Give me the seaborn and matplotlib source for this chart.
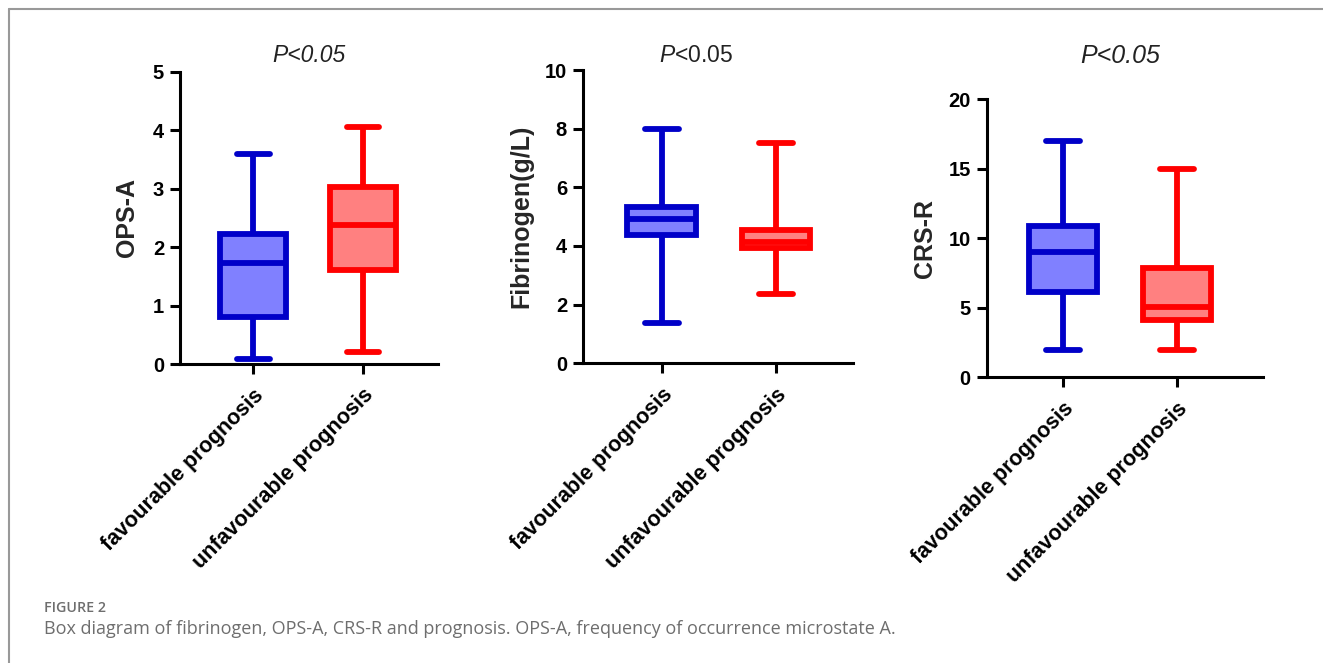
import numpy as np
import pandas as pd
import matplotlib
matplotlib.use("Agg")
import matplotlib.pyplot as plt
from matplotlib.lines import Line2D
import seaborn as sns

# ---------------- data (five-number summaries) ----------------
categories = ["favourable prognosis", "unfavourable prognosis"]
# min, Q1, median, Q3, max
ops_fav = [0.08, 0.80, 1.72, 2.22, 3.60]
ops_unfav = [0.21, 1.61, 2.38, 3.02, 4.06]
fib_fav = [1.36, 4.36, 4.91, 5.34, 8.00]
fib_unfav = [2.35, 3.94, 4.14, 4.55, 7.50]
crs_fav = [2.0, 6.15, 9.0, 10.85, 17.0]
crs_unfav = [2.0, 4.12, 5.05, 7.85, 15.0]

ylabels = ["OPS-A", "Fibrinogen(g/L)", "CRS-R"]
titles = ["P<0.05", r"$\mathit{P}$<0.05", "P<0.05"]
yticks_list = [[0, 1, 2, 3, 4, 5], [0, 2, 4, 6, 8, 10], [0, 5, 10, 15, 20]]
caption_head = "FIGURE 2"
caption_text = ("Box diagram of fibrinogen, OPS-A, CRS-R and prognosis. "
                "OPS-A, frequency of occurrence microstate A.")

fill_colors = ["#8080FF", "#FF8080"]
edge_colors = ["#0000C8", "#FF0000"]

# ---------------- style ----------------
sns.set_theme(style="ticks")
plt.rcParams["font.family"] = ["Liberation Sans", "DejaVu Sans"]
plt.rcParams["mathtext.fontset"] = "custom"
plt.rcParams["mathtext.it"] = "Liberation Sans:italic"
plt.rcParams["mathtext.rm"] = "Liberation Sans"

W, H = 1323, 663
fig = plt.figure(figsize=(W / 100, H / 100), dpi=100)
fig.patch.set_facecolor("white")

def px_axes(left, right, top, bottom):
    return fig.add_axes([left / W, 1 - bottom / H, (right - left) / W, (bottom - top) / H])

panel_px = [(180, 438, 71.7, 364.0), (583, 853, 70.0, 363.3), (986.7, 1262.7, 99.3, 377.3)]
xlims = [(-0.664, 1.682), (-0.689, 1.673), (-0.667, 1.754)]
ylabel_x = [-0.207, -0.227, -0.224]
title_pos = [(309, 56, 16.5), (696, 56, 16.5), (1120, 56, 18)]
series = [(ops_fav, ops_unfav), (fib_fav, fib_unfav), (crs_fav, crs_unfav)]

for i in range(3):
    ax = px_axes(*panel_px[i])
    for j, vals in enumerate(series[i]):
        sub = pd.DataFrame({"group": [categories[j]] * len(vals), "value": vals})
        sns.boxplot(data=sub, x="group", y="value", order=categories, ax=ax,
                    color=fill_colors[j], linecolor=edge_colors[j], linewidth=4.2,
                    width=0.6, whis=(0, 100), saturation=1, fliersize=0)
    ax.set_xlim(*xlims[i])
    yt = yticks_list[i]
    ax.set_ylim(yt[0], yt[-1])
    ax.set_yticks(yt)
    ax.set_yticklabels([str(v) for v in yt], fontsize=14.5, fontweight="bold")
    ax.set_xticks([0, 1])
    ax.set_xticklabels(categories, rotation=45, ha="right", va="top",
                       rotation_mode="anchor", fontsize=15.5, fontweight="bold")
    ax.set_xlabel("")
    ax.set_ylabel(ylabels[i], fontsize=18, fontweight="bold")
    ax.yaxis.set_label_coords(ylabel_x[i], 0.5)
    ax.yaxis.label.set_verticalalignment("center")
    sns.despine(ax=ax)
    for s in ["left", "bottom"]:
        ax.spines[s].set_linewidth(2.2)
        ax.spines[s].set_color("black")
    ax.tick_params(axis="both", length=7.5, width=2.2, color="black", colors="black")
    ax.tick_params(axis="y", pad=4)
    ax.tick_params(axis="x", pad=7.5)
    ax.set_facecolor("none")
    tx, ty, fs = title_pos[i]
    fig.text(tx / W, 1 - ty / H, titles[i], ha="center", va="center", fontsize=fs,
             fontstyle="italic" if i != 1 else "normal", color="#222222")

# caption
fig.text(44 / W, 1 - 608 / H, caption_head, ha="left", va="center", fontsize=10.3,
         family=["Open Sans", "DejaVu Sans"], fontweight="semibold", color="#6e6e6e")
fig.text(44 / W, 1 - 629 / H, caption_text, ha="left", va="center", fontsize=13.0,
         family=["Open Sans", "DejaVu Sans"], color="#6e6e6e")

# frame lines (top and left)
fig.add_artist(Line2D([9.3 / W, 1], [1 - 9.3 / H, 1 - 9.3 / H], transform=fig.transFigure,
                      color="#999999", lw=1.5))
fig.add_artist(Line2D([9.3 / W, 9.3 / W], [0, 1 - 9.3 / H], transform=fig.transFigure,
                      color="#999999", lw=1.5))

fig.savefig("out.png", dpi=100)
